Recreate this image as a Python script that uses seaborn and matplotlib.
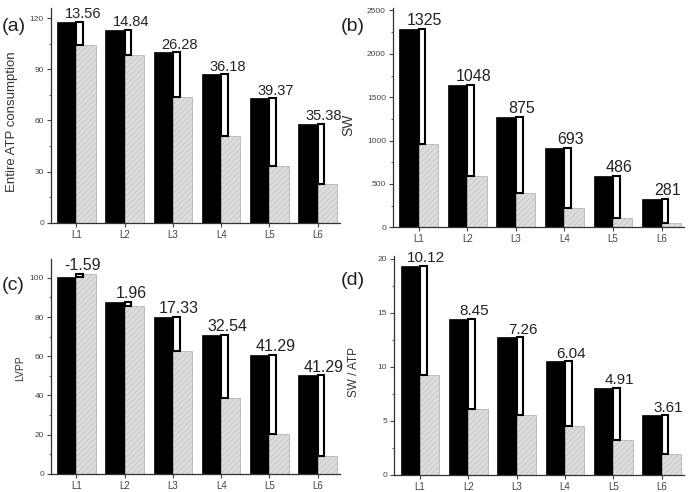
import numpy as np
import pandas as pd
import matplotlib
matplotlib.use("Agg")
import matplotlib.pyplot as plt
from matplotlib.ticker import MultipleLocator, AutoMinorLocator
import seaborn as sns

labels = ['L1', 'L2', 'L3', 'L4', 'L5', 'L6']

atp_ctrl = [118, 113, 100, 87, 73, 58]
atp_treat = [104.4, 98.2, 73.7, 50.8, 33.6, 22.6]
atp_diff = ['13.56', '14.84', '26.28', '36.18', '39.37', '35.38']

sw_ctrl = [2285, 1640, 1275, 915, 595, 325]
sw_treat = [960, 595, 400, 225, 110, 45]
sw_diff = ['1325', '1048', '875', '693', '486', '281']

lvpp_ctrl = [100.3, 87.8, 80, 70.8, 60.8, 50.3]
lvpp_treat = [101.9, 85.9, 62.9, 38.6, 20.1, 9.0]
lvpp_diff = ['-1.59', '1.96', '17.33', '32.54', '41.29', '41.29']

ratio_ctrl = [19.3, 14.45, 12.7, 10.5, 8.05, 5.5]
ratio_treat = [9.25, 6.1, 5.5, 4.55, 3.2, 1.95]
ratio_diff = ['10.12', '8.45', '7.26', '6.04', '4.91', '3.61']

sns.set_style("ticks")
plt.rcParams['font.family'] = ['Liberation Sans', 'DejaVu Sans']
plt.rcParams['hatch.linewidth'] = 0.35

fig = plt.figure(figsize=(6.88, 4.92), dpi=100)

# panel: (rect, ctrl, treat, diffs, ylabel, ylim, major step, tag, tag pos, fontsizes, ylabel coords)
panels = [
    ([0.074, 0.547, 0.420, 0.437], atp_ctrl, atp_treat, atp_diff, 'Entire ATP consumption',
     126, 30, '(a)', (0.002, 0.946), 10.5, 9.5, (-0.113, 0.47)),
    ([0.571, 0.538, 0.423, 0.446], sw_ctrl, sw_treat, sw_diff, 'SW',
     2530, 500, '(b)', (0.495, 0.946), 11.5, 10, (-0.128, 0.466)),
    ([0.074, 0.037, 0.420, 0.436], lvpp_ctrl, lvpp_treat, lvpp_diff, 'LVPP',
     109.5, 20, '(c)', (0.002, 0.42), 11.5, 7.5, (-0.089, 0.49)),
    ([0.573, 0.035, 0.421, 0.445], ratio_ctrl, ratio_treat, ratio_diff, 'SW / ATP',
     20.25, 5, '(d)', (0.495, 0.43), 11, 8.5, (-0.117, 0.47)),
]

x = np.arange(len(labels))
for rect, ctrl, treat, diffs, ylabel, ytop, step, tag, tagpos, fs, yfs, ycoords in panels:
    ax = fig.add_axes(rect)
    df = pd.DataFrame({
        'group': labels * 2,
        'cond': ['ctrl'] * len(labels) + ['treat'] * len(labels),
        'value': list(ctrl) + list(treat),
    })
    sns.barplot(data=df, x='group', y='value', hue='cond', palette=['black', '#dddddd'],
                saturation=1, width=0.8, errorbar=None, legend=False, ax=ax)
    for p in ax.containers[0]:
        p.set_edgecolor('black')
        p.set_linewidth(0.5)
    for p in ax.containers[1]:
        p.set_edgecolor('#b4b4b4')
        p.set_hatch('//////')
        p.set_linewidth(0.6)

    c = np.array(ctrl)
    t = np.array(treat)
    ax.bar(x, c - t, bottom=t, width=0.14, align='edge', color='white',
           edgecolor='black', linewidth=1.5, zorder=3)
    for i, d in enumerate(diffs):
        ax.annotate(d, (x[i] + 0.13, max(c[i], t[i])), xytext=(0, 0.5),
                    textcoords='offset points', ha='center', va='bottom',
                    fontsize=fs, color='#222222')

    ax.set_xlim(-0.53, 5.46)
    ax.set_ylim(0, ytop)
    ax.yaxis.set_major_locator(MultipleLocator(step))
    ax.yaxis.set_minor_locator(AutoMinorLocator(2))
    ax.set_xlabel('')
    ax.set_ylabel(ylabel, fontsize=yfs, color='#333333')
    ax.yaxis.set_label_coords(*ycoords)
    ax.tick_params(axis='y', which='major', length=3, width=0.8, labelsize=6, colors='#444444', pad=2)
    ax.tick_params(axis='y', which='minor', length=1.5, width=0.6, colors='#444444')
    ax.tick_params(axis='x', length=3, width=0.8, labelsize=7, colors='#444444', pad=2)
    sns.despine(ax=ax)
    for s in ['left', 'bottom']:
        ax.spines[s].set_linewidth(0.9)
        ax.spines[s].set_color('#333333')
    fig.text(tagpos[0], tagpos[1], tag, fontsize=14, va='center', ha='left', color='#222222')

fig.savefig('out.png', dpi=100)
